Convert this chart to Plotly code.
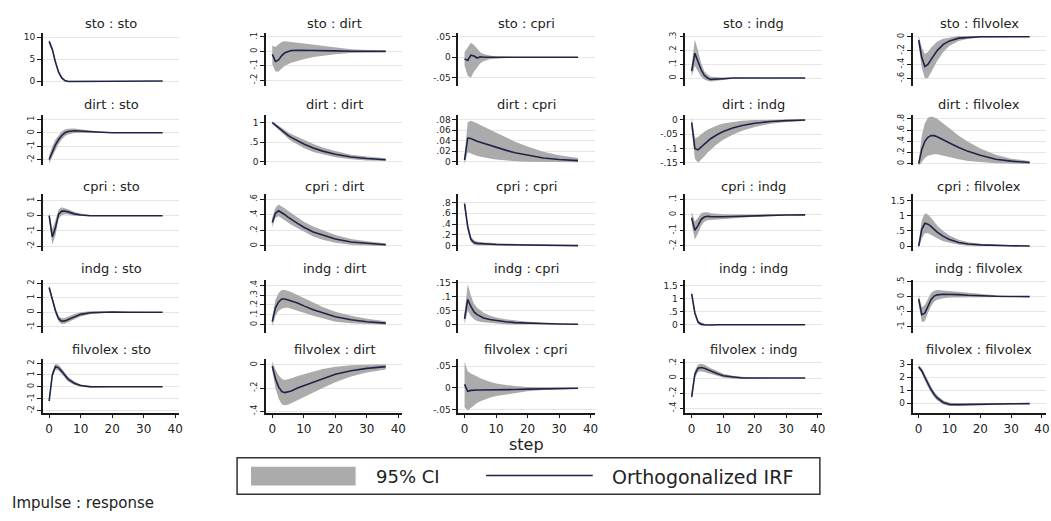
import plotly.graph_objects as go

# ---------------- data ----------------
steps = [0, 1, 2, 3, 4, 5, 6, 8, 10, 13, 16, 20, 25, 30, 36]
variables = ["sto", "dirt", "cpri", "indg", "filvolex"]
x_ticks = [0, 10, 20, 30, 40]

# impulse sto
sto_sto_irf = [9.0, 7.2, 4.3, 2.0, 0.7, 0.1, -0.1, -0.1, 0.0, 0.0, 0.0, 0.0, 0.0, 0.0, 0.0]
sto_sto_lo = [8.6, 6.8, 3.9, 1.7, 0.45, -0.1, -0.25, -0.22, -0.1, -0.05, -0.02, -0.01, 0.0, 0.0, 0.0]
sto_sto_hi = [9.4, 7.6, 4.7, 2.3, 0.95, 0.3, 0.05, 0.02, 0.1, 0.05, 0.02, 0.01, 0.0, 0.0, 0.0]
sto_dirt_irf = [-0.02, -0.07, -0.06, -0.03, -0.01, 0.0, 0.005, 0.008, 0.008, 0.006, 0.004, 0.003, 0.001, 0.0, 0.0]
sto_dirt_lo = [-0.09, -0.14, -0.14, -0.12, -0.10, -0.09, -0.08, -0.065, -0.055, -0.04, -0.03, -0.02, -0.012, -0.007, -0.004]
sto_dirt_hi = [0.04, 0.03, 0.05, 0.065, 0.07, 0.07, 0.065, 0.06, 0.055, 0.045, 0.035, 0.025, 0.015, 0.009, 0.005]
sto_cpri_irf = [-0.004, -0.008, 0.005, 0.003, -0.002, 0.001, 0.0, 0.0, 0.0, 0.0, 0.0, 0.0, 0.0, 0.0, 0.0]
sto_cpri_lo = [-0.02, -0.045, -0.05, -0.035, -0.025, -0.015, -0.01, -0.005, -0.003, -0.002, -0.001, 0.0, 0.0, 0.0, 0.0]
sto_cpri_hi = [0.012, 0.025, 0.035, 0.03, 0.02, 0.012, 0.008, 0.004, 0.002, 0.001, 0.001, 0.0, 0.0, 0.0, 0.0]
sto_indg_irf = [0.05, 0.18, 0.12, 0.06, 0.02, 0.0, -0.01, -0.01, -0.005, 0.0, 0.0, 0.0, 0.0, 0.0, 0.0]
sto_indg_lo = [0.01, 0.09, 0.05, 0.01, -0.01, -0.02, -0.025, -0.02, -0.012, -0.006, -0.003, -0.001, 0.0, 0.0, 0.0]
sto_indg_hi = [0.09, 0.28, 0.2, 0.11, 0.05, 0.025, 0.01, 0.005, 0.003, 0.002, 0.001, 0.0, 0.0, 0.0, 0.0]
sto_filvolex_irf = [-0.05, -0.3, -0.43, -0.4, -0.33, -0.26, -0.2, -0.11, -0.06, -0.02, -0.01, 0.0, 0.0, 0.0, 0.0]
sto_filvolex_lo = [-0.12, -0.45, -0.6, -0.6, -0.52, -0.43, -0.35, -0.22, -0.13, -0.06, -0.03, -0.01, -0.005, 0.0, 0.0]
sto_filvolex_hi = [0.02, -0.15, -0.25, -0.22, -0.16, -0.11, -0.07, -0.03, -0.01, 0.01, 0.01, 0.005, 0.003, 0.001, 0.0]

# impulse dirt
dirt_sto_irf = [-2.0, -1.4, -0.9, -0.5, -0.2, 0.0, 0.1, 0.15, 0.12, 0.06, 0.03, 0.01, 0.0, 0.0, 0.0]
dirt_sto_lo = [-2.3, -1.8, -1.3, -0.85, -0.5, -0.25, -0.12, -0.02, 0.0, -0.02, -0.02, -0.01, -0.005, 0.0, 0.0]
dirt_sto_hi = [-1.7, -1.0, -0.5, -0.15, 0.1, 0.25, 0.3, 0.32, 0.25, 0.14, 0.08, 0.03, 0.01, 0.005, 0.0]
dirt_dirt_irf = [1.0, 0.93, 0.86, 0.79, 0.73, 0.67, 0.62, 0.53, 0.45, 0.35, 0.27, 0.19, 0.12, 0.08, 0.05]
dirt_dirt_lo = [0.97, 0.89, 0.81, 0.73, 0.66, 0.59, 0.53, 0.43, 0.35, 0.25, 0.18, 0.11, 0.06, 0.03, 0.015]
dirt_dirt_hi = [1.03, 0.97, 0.91, 0.85, 0.80, 0.75, 0.71, 0.63, 0.55, 0.45, 0.36, 0.27, 0.18, 0.13, 0.09]
dirt_cpri_irf = [0.003, 0.045, 0.044, 0.041, 0.039, 0.037, 0.035, 0.031, 0.027, 0.022, 0.017, 0.012, 0.007, 0.004, 0.002]
dirt_cpri_lo = [-0.005, 0.018, 0.016, 0.013, 0.011, 0.009, 0.008, 0.006, 0.004, 0.002, 0.001, 0.0, -0.001, -0.001, -0.001]
dirt_cpri_hi = [0.012, 0.075, 0.078, 0.076, 0.073, 0.07, 0.067, 0.061, 0.055, 0.046, 0.038, 0.029, 0.019, 0.012, 0.007]
dirt_indg_irf = [-0.01, -0.1, -0.105, -0.095, -0.085, -0.075, -0.066, -0.052, -0.041, -0.029, -0.02, -0.012, -0.006, -0.003, -0.001]
dirt_indg_lo = [-0.03, -0.135, -0.15, -0.14, -0.128, -0.115, -0.103, -0.085, -0.07, -0.052, -0.038, -0.025, -0.014, -0.008, -0.004]
dirt_indg_hi = [0.01, -0.065, -0.06, -0.05, -0.042, -0.035, -0.029, -0.02, -0.013, -0.007, -0.003, -0.001, 0.001, 0.001, 0.001]
dirt_filvolex_irf = [0.0, 0.25, 0.4, 0.47, 0.5, 0.5, 0.48, 0.43, 0.37, 0.29, 0.22, 0.15, 0.08, 0.045, 0.02]
dirt_filvolex_lo = [-0.05, 0.02, 0.1, 0.14, 0.16, 0.17, 0.17, 0.15, 0.12, 0.08, 0.05, 0.03, 0.01, 0.0, -0.005]
dirt_filvolex_hi = [0.05, 0.5, 0.72, 0.82, 0.84, 0.83, 0.8, 0.72, 0.63, 0.5, 0.39, 0.27, 0.16, 0.09, 0.05]

# impulse cpri
cpri_sto_irf = [0.0, -1.4, -0.8, 0.1, 0.3, 0.3, 0.25, 0.12, 0.05, 0.0, 0.0, 0.0, 0.0, 0.0, 0.0]
cpri_sto_lo = [-0.2, -1.9, -1.3, -0.2, 0.05, 0.1, 0.08, 0.0, -0.04, -0.04, -0.02, -0.01, 0.0, 0.0, 0.0]
cpri_sto_hi = [0.2, -0.9, -0.3, 0.4, 0.55, 0.5, 0.42, 0.25, 0.14, 0.05, 0.02, 0.01, 0.0, 0.0, 0.0]
cpri_dirt_irf = [0.3, 0.42, 0.45, 0.43, 0.4, 0.37, 0.34, 0.29, 0.24, 0.18, 0.14, 0.09, 0.05, 0.03, 0.015]
cpri_dirt_lo = [0.24, 0.36, 0.38, 0.36, 0.33, 0.3, 0.27, 0.22, 0.18, 0.12, 0.08, 0.04, 0.015, 0.005, 0.0]
cpri_dirt_hi = [0.36, 0.49, 0.53, 0.51, 0.48, 0.45, 0.42, 0.37, 0.31, 0.25, 0.2, 0.14, 0.09, 0.06, 0.035]
cpri_cpri_irf = [0.78, 0.35, 0.12, 0.06, 0.045, 0.04, 0.035, 0.03, 0.025, 0.02, 0.016, 0.012, 0.008, 0.005, 0.003]
cpri_cpri_lo = [0.72, 0.28, 0.07, 0.02, 0.01, 0.01, 0.008, 0.006, 0.005, 0.003, 0.002, 0.001, 0.0, 0.0, 0.0]
cpri_cpri_hi = [0.84, 0.42, 0.17, 0.1, 0.08, 0.07, 0.062, 0.055, 0.048, 0.04, 0.033, 0.025, 0.017, 0.011, 0.007]
cpri_indg_irf = [-0.02, -0.1, -0.07, -0.03, -0.015, -0.01, -0.012, -0.014, -0.013, -0.011, -0.009, -0.006, -0.004, -0.002, -0.001]
cpri_indg_lo = [-0.06, -0.16, -0.12, -0.07, -0.045, -0.035, -0.033, -0.032, -0.029, -0.024, -0.019, -0.013, -0.008, -0.005, -0.003]
cpri_indg_hi = [0.02, -0.045, -0.02, 0.01, 0.015, 0.015, 0.01, 0.005, 0.003, 0.002, 0.001, 0.001, 0.0, 0.001, 0.001]
cpri_filvolex_irf = [0.0, 0.55, 0.75, 0.72, 0.65, 0.55, 0.46, 0.32, 0.22, 0.12, 0.07, 0.04, 0.02, 0.01, 0.005]
cpri_filvolex_lo = [-0.08, 0.25, 0.42, 0.42, 0.38, 0.32, 0.26, 0.16, 0.1, 0.04, 0.01, 0.0, -0.005, -0.005, -0.003]
cpri_filvolex_hi = [0.08, 0.85, 1.08, 1.04, 0.93, 0.8, 0.68, 0.49, 0.35, 0.21, 0.13, 0.08, 0.045, 0.025, 0.013]

# impulse indg
indg_sto_irf = [1.7, 0.9, 0.1, -0.45, -0.62, -0.6, -0.5, -0.3, -0.15, -0.04, 0.0, 0.01, 0.0, 0.0, 0.0]
indg_sto_lo = [1.55, 0.7, -0.1, -0.65, -0.82, -0.8, -0.7, -0.48, -0.3, -0.14, -0.07, -0.03, -0.01, 0.0, 0.0]
indg_sto_hi = [1.85, 1.1, 0.3, -0.25, -0.42, -0.4, -0.3, -0.12, -0.01, 0.06, 0.07, 0.05, 0.01, 0.0, 0.0]
indg_dirt_irf = [0.03, 0.17, 0.23, 0.26, 0.26, 0.25, 0.24, 0.22, 0.19, 0.15, 0.12, 0.08, 0.05, 0.03, 0.015]
indg_dirt_lo = [-0.02, 0.09, 0.14, 0.16, 0.17, 0.17, 0.16, 0.14, 0.12, 0.09, 0.06, 0.03, 0.015, 0.005, 0.0]
indg_dirt_hi = [0.08, 0.25, 0.32, 0.35, 0.35, 0.34, 0.33, 0.3, 0.27, 0.22, 0.18, 0.13, 0.09, 0.06, 0.035]
indg_cpri_irf = [0.02, 0.09, 0.065, 0.045, 0.035, 0.028, 0.023, 0.017, 0.013, 0.009, 0.006, 0.004, 0.002, 0.001, 0.0]
indg_cpri_lo = [0.0, 0.05, 0.03, 0.018, 0.012, 0.009, 0.007, 0.004, 0.002, 0.0, -0.001, -0.001, -0.001, 0.0, 0.0]
indg_cpri_hi = [0.04, 0.145, 0.105, 0.075, 0.06, 0.05, 0.042, 0.032, 0.025, 0.018, 0.013, 0.009, 0.005, 0.003, 0.001]
indg_indg_irf = [1.18, 0.45, 0.1, 0.02, 0.0, -0.01, -0.01, 0.0, 0.0, 0.0, 0.0, 0.0, 0.0, 0.0, 0.0]
indg_indg_lo = [1.1, 0.35, 0.03, -0.04, -0.04, -0.04, -0.03, -0.02, -0.01, -0.005, 0.0, 0.0, 0.0, 0.0, 0.0]
indg_indg_hi = [1.26, 0.55, 0.17, 0.08, 0.04, 0.02, 0.01, 0.01, 0.01, 0.005, 0.0, 0.0, 0.0, 0.0, 0.0]
indg_filvolex_irf = [-0.08, -0.6, -0.55, -0.3, -0.1, 0.02, 0.06, 0.08, 0.08, 0.07, 0.05, 0.03, 0.015, 0.007, 0.003]
indg_filvolex_lo = [-0.25, -0.85, -0.82, -0.55, -0.32, -0.17, -0.1, -0.05, -0.03, -0.02, -0.02, -0.015, -0.01, -0.007, -0.004]
indg_filvolex_hi = [0.09, -0.35, -0.28, -0.05, 0.12, 0.2, 0.22, 0.21, 0.19, 0.16, 0.12, 0.08, 0.045, 0.025, 0.012]

# impulse filvolex
filvolex_sto_irf = [-1.2, 1.0, 1.7, 1.6, 1.3, 0.95, 0.65, 0.3, 0.1, 0.0, -0.02, 0.0, 0.0, 0.0, 0.0]
filvolex_sto_lo = [-1.45, 0.75, 1.45, 1.35, 1.05, 0.72, 0.45, 0.15, 0.0, -0.08, -0.06, -0.03, -0.01, 0.0, 0.0]
filvolex_sto_hi = [-0.95, 1.25, 1.95, 1.85, 1.55, 1.18, 0.85, 0.45, 0.2, 0.08, 0.02, 0.02, 0.01, 0.0, 0.0]
filvolex_dirt_irf = [-0.01, -0.12, -0.19, -0.23, -0.24, -0.235, -0.225, -0.2, -0.18, -0.145, -0.115, -0.08, -0.05, -0.03, -0.015]
filvolex_dirt_lo = [-0.05, -0.2, -0.29, -0.34, -0.35, -0.345, -0.335, -0.31, -0.28, -0.24, -0.2, -0.15, -0.1, -0.065, -0.04]
filvolex_dirt_hi = [0.03, -0.04, -0.09, -0.12, -0.13, -0.125, -0.115, -0.095, -0.08, -0.055, -0.035, -0.015, -0.003, 0.002, 0.005]
filvolex_cpri_irf = [0.008, -0.008, -0.006, -0.005, -0.005, -0.005, -0.005, -0.005, -0.005, -0.004, -0.004, -0.003, -0.002, -0.001, -0.001]
filvolex_cpri_lo = [-0.045, -0.052, -0.045, -0.04, -0.035, -0.031, -0.028, -0.023, -0.019, -0.015, -0.012, -0.008, -0.005, -0.003, -0.002]
filvolex_cpri_hi = [0.06, 0.038, 0.033, 0.03, 0.026, 0.022, 0.019, 0.014, 0.01, 0.007, 0.004, 0.002, 0.001, 0.001, 0.0]
filvolex_indg_irf = [-0.25, 0.05, 0.13, 0.14, 0.13, 0.11, 0.09, 0.06, 0.03, 0.01, 0.0, 0.0, 0.0, 0.0, 0.0]
filvolex_indg_lo = [-0.3, 0.0, 0.08, 0.09, 0.08, 0.065, 0.05, 0.025, 0.005, -0.01, -0.01, -0.005, 0.0, 0.0, 0.0]
filvolex_indg_hi = [-0.2, 0.1, 0.18, 0.19, 0.18, 0.155, 0.13, 0.095, 0.055, 0.03, 0.015, 0.007, 0.003, 0.001, 0.0]
filvolex_filvolex_irf = [2.8, 2.5, 2.0, 1.5, 1.05, 0.68, 0.4, 0.05, -0.1, -0.12, -0.1, -0.08, -0.06, -0.05, -0.04]
filvolex_filvolex_lo = [2.65, 2.3, 1.75, 1.25, 0.8, 0.45, 0.2, -0.1, -0.22, -0.22, -0.19, -0.15, -0.12, -0.1, -0.08]
filvolex_filvolex_hi = [2.95, 2.7, 2.25, 1.75, 1.3, 0.9, 0.6, 0.2, 0.02, -0.02, -0.01, -0.01, 0.0, 0.0, 0.0]

# y-axis tick values per panel (row = impulse, column = response)
y_ticks = [
    [[0, 5, 10], [-0.2, -0.1, 0, 0.1], [-0.05, 0, 0.05], [0, 0.1, 0.2, 0.3], [-0.6, -0.4, -0.2, 0]],
    [[-2, -1, 0, 1], [0, 0.5, 1], [0, 0.02, 0.04, 0.06, 0.08], [-0.15, -0.1, -0.05, 0], [0, 0.2, 0.4, 0.6, 0.8]],
    [[-2, -1, 0, 1], [0, 0.2, 0.4, 0.6], [0, 0.2, 0.4, 0.6, 0.8], [-0.2, -0.1, 0, 0.1], [0, 0.5, 1, 1.5]],
    [[-1, 0, 1, 2], [0, 0.1, 0.2, 0.3, 0.4], [0, 0.05, 0.1, 0.15], [0, 0.5, 1, 1.5], [-1, -0.5, 0, 0.5]],
    [[-2, -1, 0, 1, 2], [-0.4, -0.2, 0], [-0.05, 0, 0.05], [-0.4, -0.2, 0, 0.2], [0, 1, 2, 3]],
]

# ---------------- layout constants ----------------
W, H = 1051, 521
col_px = [(43, 180), (267, 404), (460, 597), (688, 825), (916, 1050)]
row_px = [(29, 83), (113, 163), (193, 250), (280, 333), (360, 415)]
title_px = [20, 102, 185, 268, 350]
y_ranges = [
    [[-1.1, 11], [-0.24, 0.13], [-0.07, 0.06], [-0.057, 0.33], [-0.71, 0.06]],
    [[-2.4, 1.3], [-0.08, 1.18], [-0.006, 0.088], [-0.157, 0.015], [-0.02, 0.86]],
    [[-2.3, 1.4], [-0.06, 0.66], [-0.09, 0.95], [-0.23, 0.13], [-0.15, 1.7]],
    [[-1.4, 2.2], [-0.08, 0.45], [-0.03, 0.16], [-0.3, 1.7], [-1.2, 0.55]],
    [[-2.25, 2.33], [-0.42, 0.05], [-0.059, 0.066], [-0.47, 0.25], [-0.8, 3.4]],
]
y_angles = [
    [0, -90, 0, -90, -90],
    [-90, 0, 0, 0, -90],
    [-90, -90, 0, -90, 0],
    [-90, -90, 0, 0, -90],
    [-90, -90, 0, -90, 0],
]

BAND = "#ababab"
LINE = "#1e2448"
GRID = "#e6e6e6"
AX = "#1a1a1a"
FONT = "DejaVu Sans"

g = globals()


def fmt(v):
    s = "%g" % v
    if s.startswith("0."):
        s = s[1:]
    elif s.startswith("-0."):
        s = "-" + s[2:]
    return s


fig = go.Figure()
annotations = []
for r, imp in enumerate(variables):
    for c, resp in enumerate(variables):
        k = r * 5 + c + 1
        key = f"{imp}_{resp}"
        irf = g[key + "_irf"]
        lo = g[key + "_lo"]
        hi = g[key + "_hi"]
        xa = "x" if k == 1 else f"x{k}"
        ya = "y" if k == 1 else f"y{k}"
        fig.add_trace(go.Scatter(
            x=steps + steps[::-1], y=hi + lo[::-1], fill="toself",
            fillcolor=BAND, line=dict(width=0), mode="lines",
            hoverinfo="skip", showlegend=False, xaxis=xa, yaxis=ya))
        fig.add_trace(go.Scatter(
            x=steps, y=irf, mode="lines", line=dict(color=LINE, width=1.6),
            showlegend=False, xaxis=xa, yaxis=ya))
        x0, x1 = col_px[c]
        y0, y1 = row_px[r]
        bottom = (r == 4)
        fig.layout[f"xaxis{'' if k == 1 else k}"] = dict(
            domain=[x0 / W, x1 / W], anchor=ya, range=[-2, 41.3],
            showgrid=False, zeroline=False, showline=bottom,
            linecolor=AX, linewidth=1.5,
            ticks="outside" if bottom else "", ticklen=3, tickcolor=AX,
            tickvals=x_ticks, showticklabels=bottom,
            tickfont=dict(family=FONT, size=12, color="#222"))
        yt = y_ticks[r][c]
        rot = y_angles[r][c] != 0
        fig.layout[f"yaxis{'' if k == 1 else k}"] = dict(
            domain=[1 - y1 / H, 1 - y0 / H], anchor=xa, range=y_ranges[r][c],
            showgrid=True, gridcolor=GRID, gridwidth=1, zeroline=False,
            showline=True, linecolor=AX, linewidth=1.5,
            ticks="outside", ticklen=4, tickcolor=AX,
            tickvals=yt, ticktext=[fmt(v) for v in yt],
            tickangle=y_angles[r][c],
            tickfont=dict(family=FONT, size=8 if rot else 9, color="#222"))
        annotations.append(dict(
            text=f"{imp} : {resp}", xref="paper", yref="paper",
            x=(x0 + x1) / 2 / W, y=1 - title_px[r] / H,
            xanchor="center", yanchor="middle", showarrow=False,
            font=dict(family=FONT, size=13, color="#222")))

# axis title and note
annotations.append(dict(text="step", xref="paper", yref="paper",
                        x=(col_px[2][0] + col_px[2][1]) / 2 / W, y=1 - 447 / H,
                        xanchor="center", yanchor="middle", showarrow=False,
                        font=dict(family=FONT, size=16, color="#222")))
annotations.append(dict(text="Impulse : response", xref="paper", yref="paper",
                        x=10 / W, y=1 - 506 / H, xanchor="left", yanchor="middle",
                        showarrow=False, font=dict(family=FONT, size=15, color="#222")))

# legend (drawn)
shapes = [
    dict(type="rect", xref="paper", yref="paper", x0=238 / W, x1=823 / W,
         y0=1 - 497 / H, y1=1 - 460 / H, line=dict(color="#333", width=1.5),
         fillcolor="white"),
    dict(type="rect", xref="paper", yref="paper", x0=252 / W, x1=357 / W,
         y0=1 - 488 / H, y1=1 - 469 / H, line=dict(width=0), fillcolor=BAND),
    dict(type="line", xref="paper", yref="paper", x0=488 / W, x1=595 / W,
         y0=1 - 478 / H, y1=1 - 478 / H, line=dict(color=LINE, width=1.5)),
]
annotations.append(dict(text="95% CI", xref="paper", yref="paper",
                        x=410 / W, y=1 - 479 / H, xanchor="center", yanchor="middle",
                        showarrow=False, font=dict(family=FONT, size=18, color="#222")))
annotations.append(dict(text="Orthogonalized IRF", xref="paper", yref="paper",
                        x=612 / W, y=1 - 479 / H, xanchor="left", yanchor="middle",
                        showarrow=False, font=dict(family=FONT, size=19, color="#222")))

fig.update_layout(
    width=W, height=H, margin=dict(l=0, r=0, t=0, b=0),
    paper_bgcolor="white", plot_bgcolor="white",
    annotations=annotations, shapes=shapes, showlegend=False,
)
fig.write_html("out.html")
